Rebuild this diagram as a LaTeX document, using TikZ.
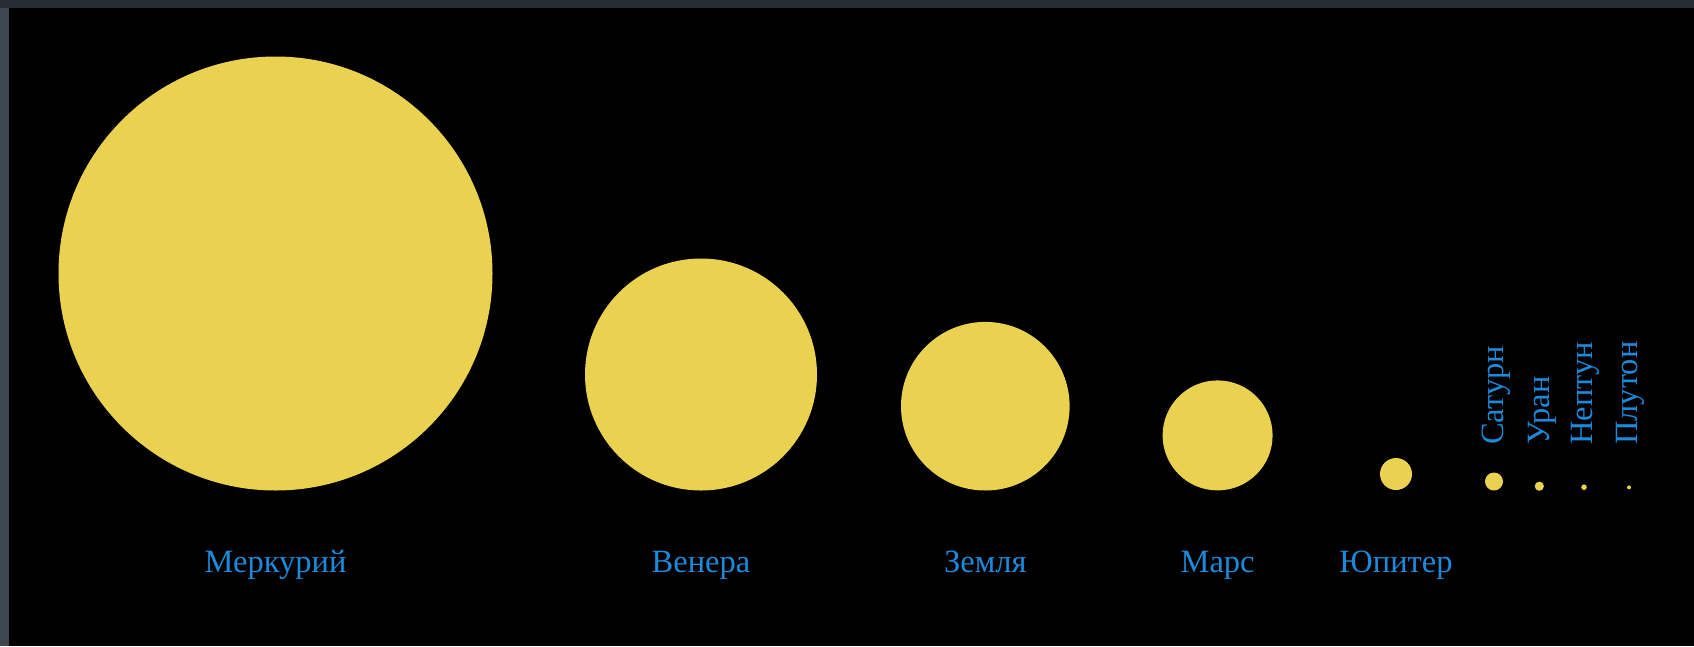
\documentclass[tikz,border=0pt]{standalone}
\usepackage{fontspec}
\setmainfont{Liberation Serif}
\definecolor{bgtop}{HTML}{262D35}
\definecolor{bgleft}{HTML}{3E4650}
\definecolor{planet}{HTML}{EAD250}
\definecolor{lbl}{HTML}{1C8ADA}
\tikzset{
  planetdot/.style={fill=planet, draw=none},
  hlabel/.style={text=lbl, font=\fontsize{32.5}{38}\selectfont, inner sep=0pt, anchor=base},
  vlabel/.style={text=lbl, font=\fontsize{32.5}{38}\selectfont, inner sep=0pt, rotate=90, anchor=west},
}
\begin{document}
\begin{tikzpicture}[x=1pt,y=-1pt]
\useasboundingbox (0,0) rectangle (1694,646);
\fill[black] (0,0) rectangle (1694,646);
\fill[bgtop] (0,0) rectangle (1694,8);
\fill[bgleft] (0,8) rectangle (9,646);
% planets
\fill[planetdot] (275.5,273.5) circle[radius=217];
\coordinate (mercury) at (275.5,273.5);
\fill[planetdot] (701,374.5) circle[radius=116];
\coordinate (venus) at (701,374.5);
\fill[planetdot] (985.3,406.2) circle[radius=84.3];
\coordinate (earth) at (985.3,406.2);
\fill[planetdot] (1217.6,435.4) circle[radius=55];
\coordinate (mars) at (1217.6,435.4);
\fill[planetdot] (1396,474) circle[radius=16];
\coordinate (jupiter) at (1396,474);
\fill[planetdot] (1494,481.5) circle[radius=9];
\coordinate (saturn) at (1494,481.5);
\fill[planetdot] (1539.3,486.2) circle[radius=4.6];
\coordinate (uranus) at (1539.3,486.2);
\fill[planetdot] (1584,487.2) circle[radius=2.8];
\coordinate (neptune) at (1584,487.2);
\fill[planetdot] (1629,487.4) circle[radius=2];
\coordinate (pluto) at (1629,487.4);
% labels
\node[hlabel] (lmercury) at (275.5,572) {Меркурий};
\node[hlabel] (lvenus) at (701,572) {Венера};
\node[hlabel] (learth) at (985.3,572) {Земля};
\node[hlabel] (lmars) at (1217.6,572) {Марс};
\node[hlabel] (ljupiter) at (1396,572) {Юпитер};
\node[vlabel] (lsaturn) at (1496,445) {Сатурн};
\node[vlabel] (luranus) at (1542,445) {Уран};
\node[vlabel] (lneptune) at (1585,445) {Нептун};
\node[vlabel] (lpluto) at (1630,445) {Плутон};
\end{tikzpicture}
\end{document}
